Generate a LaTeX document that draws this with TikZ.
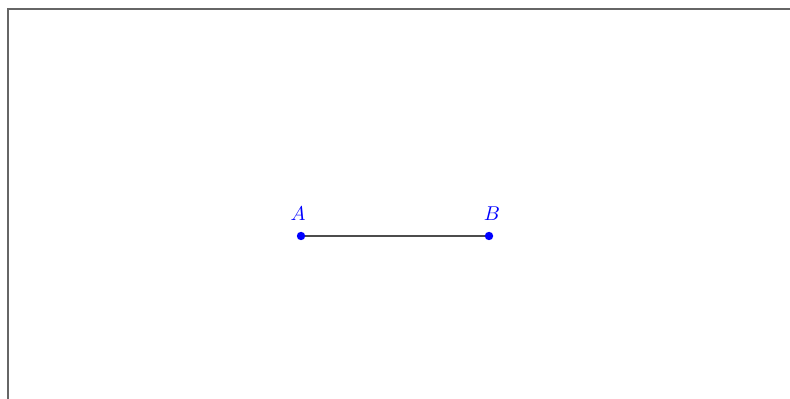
\documentclass[tikz,border=0pt]{standalone}
\begin{document}
\begin{tikzpicture}[x=0.5pt,y=-0.5pt,
  frameline/.style={draw=black!60,line width=1pt},
  segline/.style={draw=black!70,line width=0.7pt},
  ptdot/.style={circle,fill=blue,inner sep=0pt,minimum size=4.2pt},
  ptlabel/.style={text=blue,inner sep=0pt,font=\normalsize}]
\useasboundingbox (0,0) rectangle (790,399);
\coordinate (F1) at (7.5,399);
\coordinate (F2) at (7.5,9.5);
\coordinate (F3) at (790,9.5);
\draw[frameline] (F1) -- (F2) -- (F3);
\coordinate (A) at (301,236);
\coordinate (B) at (489,236);
\draw[segline] (A) -- (B);
\node[ptdot] (DA) at (A) {};
\node[ptdot] (DB) at (B) {};
\node[ptlabel] (LA) at (298,214) {$A$};
\node[ptlabel] (LB) at (492,214) {$B$};
\end{tikzpicture}
\end{document}
